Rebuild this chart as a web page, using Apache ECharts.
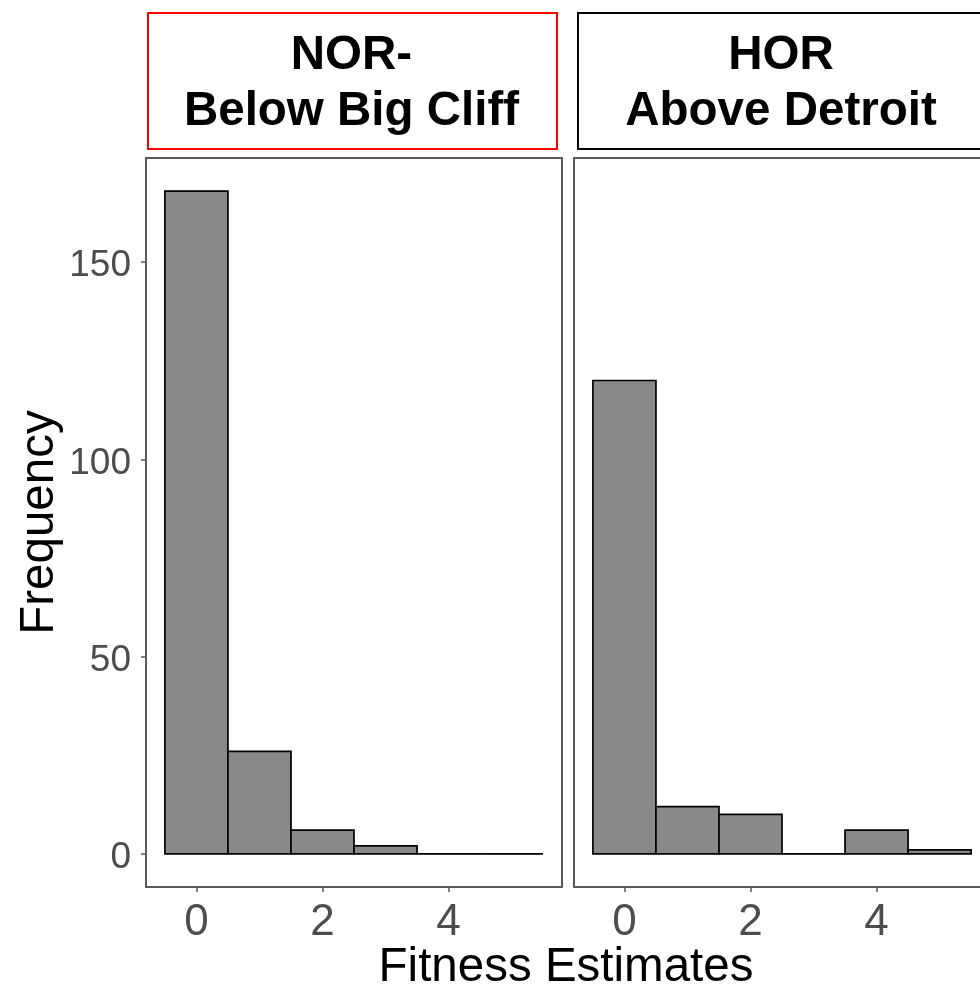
<!DOCTYPE html>
<html>
<head>
<meta charset="utf-8">
<script src="https://cdn.jsdelivr.net/npm/echarts@6/dist/echarts.min.js"></script>
<style>
html,body{margin:0;padding:0;background:#fff;}
#main{width:980px;height:987px;}
</style>
</head>
<body>
<div id="main"></div>
<script>
// ---- data ----
const binCenters = [0, 1, 2, 3, 4, 5];
const norCounts = [168, 26, 6, 2, 0, 0];
const horCounts = [120, 12, 10, 0, 6, 1];
const panelTitles = ['NOR-\nBelow Big Cliff', 'HOR\nAbove Detroit'];
const yTickValues = [0, 50, 100, 150];
const xTickValues = [0, 2, 4];
const xTitle = 'Fitness Estimates';
const yTitle = 'Frequency';

// ---- chart ----
const FONT = '"Liberation Sans", Arial, Helvetica, sans-serif';
const binWidth = 1;
const yMaxData = Math.max(...norCounts, ...horCounts);
const yPad = yMaxData * 0.05;
const xPad = (binCenters.length * binWidth) * 0.05;
const xMin = binCenters[0] - binWidth / 2 - xPad;
const xMax = binCenters[binCenters.length - 1] + binWidth / 2 + xPad;

function toData(counts) {
  return binCenters.map((c, i) => [c, counts[i]]);
}

function renderBin(params, api) {
  const x = api.value(0), y = api.value(1);
  const p0 = api.coord([x - binWidth / 2, 0]);
  const p1 = api.coord([x + binWidth / 2, y]);
  return {
    type: 'rect',
    shape: { x: p0[0], y: p1[1], width: p1[0] - p0[0], height: p0[1] - p1[1] },
    style: { fill: '#898989', stroke: '#000', lineWidth: 1.7 }
  };
}

const gridTop = 158, gridHeight = 729, gridWidth = 416;
const grids = [
  { left: 146, top: gridTop, width: gridWidth, height: gridHeight, show: true, borderColor: '#5a5a5a', borderWidth: 2, backgroundColor: '#fff', containLabel: false, outerBoundsMode: 'none' },
  { left: 574, top: gridTop, width: gridWidth, height: gridHeight, show: true, borderColor: '#5a5a5a', borderWidth: 2, backgroundColor: '#fff', containLabel: false, outerBoundsMode: 'none' }
];

function makeX(gi) {
  return {
    type: 'value', gridIndex: gi, min: xMin, max: xMax, position: 'bottom',
    splitLine: { show: false },
    axisLine: { show: false, onZero: false },
    axisTick: { show: true, inside: false, length: 5, lineStyle: { color: '#5a5a5a', width: 1.5 }, customValues: xTickValues },
    axisLabel: { show: true, margin: 14, fontSize: 44, color: '#4d4d4d', fontFamily: FONT, customValues: xTickValues }
  };
}
function makeY(gi, showLabels) {
  return {
    type: 'value', gridIndex: gi, min: -yPad, max: yMaxData + yPad, position: 'left',
    splitLine: { show: false },
    axisLine: { show: false, onZero: false },
    axisTick: { show: showLabels, inside: false, length: 5, lineStyle: { color: '#5a5a5a', width: 1.5 }, customValues: yTickValues },
    axisLabel: {
      show: showLabels, margin: 15, customValues: yTickValues,
      formatter: '{t|{value}}',
      rich: { t: { fontSize: 37, color: '#4d4d4d', fontFamily: FONT, padding: [8, 0, 0, 0] } }
    },
    name: showLabels ? yTitle : '',
    nameLocation: 'middle', nameRotate: 90, nameGap: 82,
    nameTextStyle: { fontSize: 47.5, color: '#000', fontFamily: FONT }
  };
}

const stripStyle = [
  { x: 147, w: 409, stroke: '#ff0000' },
  { x: 577, w: 420, stroke: '#000000' }
];

const graphics = [];
panelTitles.forEach((t, i) => {
  const s = stripStyle[i];
  graphics.push({
    type: 'rect', left: s.x, top: 12,
    shape: { x: 0, y: 0, width: s.w, height: 136 },
    style: { fill: '#fff', stroke: s.stroke, lineWidth: 2 }
  });
  graphics.push({
    type: 'text', x: s.x + s.w / 2 + (i === 1 ? -6 : 0), y: 84,
    style: { text: t, fill: '#000', font: 'bold 47.5px ' + FONT, align: 'center', verticalAlign: 'middle', lineHeight: 56 }
  });
});
graphics.push({
  type: 'text', x: 566, y: 968,
  style: { text: xTitle, fill: '#000', font: '47.5px ' + FONT, align: 'center', verticalAlign: 'middle' }
});

const chart = echarts.init(document.getElementById('main'), null, { renderer: 'canvas' });
chart.setOption({
  animation: false,
  backgroundColor: '#fff',
  grid: grids,
  xAxis: [makeX(0), makeX(1)],
  yAxis: [makeY(0, true), makeY(1, false)],
  series: [
    { type: 'custom', xAxisIndex: 0, yAxisIndex: 0, renderItem: renderBin, data: toData(norCounts), encode: { x: 0, y: 1 }, clip: true },
    { type: 'custom', xAxisIndex: 1, yAxisIndex: 1, renderItem: renderBin, data: toData(horCounts), encode: { x: 0, y: 1 }, clip: true }
  ],
  graphic: graphics
});
</script>
</body>
</html>
